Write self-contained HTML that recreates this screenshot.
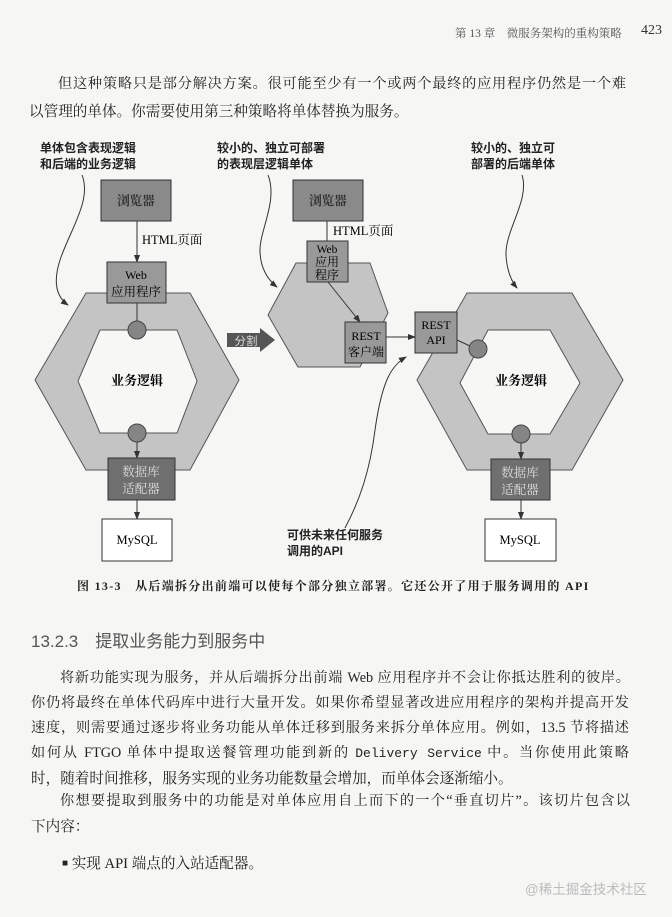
<!DOCTYPE html>
<html><head><meta charset="utf-8"><style>
body{margin:0;width:672px;height:917px;background:#f6f6f4;position:relative;overflow:hidden;font-family:"Liberation Serif","Noto Serif CJK SC",serif;color:#222}
.t{position:absolute;white-space:nowrap}
.j{position:absolute;text-align:justify;text-align-last:justify;font-size:14.2px;line-height:20px;white-space:nowrap}
.b{font-size:14.6px}
.s{font-family:"Liberation Sans","Noto Sans CJK SC",sans-serif}
</style></head><body>
<div class="t" style="left:455px;top:25px;font-size:11.5px;color:#555">第 13 章　微服务架构的重构策略</div>
<div class="t" style="left:641px;top:23px;font-size:14px;color:#333">423</div>
<div class="j" style="left:58px;top:74px;width:568px">但这种策略只是部分解决方案。很可能至少有一个或两个最终的应用程序仍然是一个难</div>
<div class="t b" style="left:29px;top:100px">以管理的单体。你需要使用第三种策略将单体替换为服务。</div>

<svg width="672" height="600" style="position:absolute;left:0;top:0" font-family="Liberation Serif,Noto Serif CJK SC,serif">
<defs><marker id="a" markerWidth="8" markerHeight="8" refX="7" refY="4" orient="auto" markerUnits="userSpaceOnUse"><path d="M0,1 L8,4 L0,7z" fill="#333"/></marker></defs>
<g font-family="Liberation Sans,Noto Sans CJK SC,sans-serif" font-size="12" font-weight="bold" fill="#222">
<text x="40" y="152">单体包含表现逻辑</text><text x="40" y="168">和后端的业务逻辑</text>
<text x="217" y="152">较小的、独立可部署</text><text x="217" y="168">的表现层逻辑单体</text>
<text x="471" y="152">较小的、独立可</text><text x="471" y="168">部署的后端单体</text>
<text x="287" y="539">可供未来任何服务</text><text x="287" y="555">调用的API</text>
</g>
<g fill="none" stroke="#333" stroke-width="1">
<path d="M82,175 C92,200 70,230 60,260 C52,285 58,298 68,305" marker-end="url(#a)"/>
<path d="M268,175 C278,200 260,230 260,250 C260,268 268,280 277,287" marker-end="url(#a)"/>
<path d="M522,175 C530,200 505,230 506,255 C507,272 512,282 517,288" marker-end="url(#a)"/>
<path d="M345,528 C360,500 370,470 375,430 C382,380 392,365 406,357" marker-end="url(#a)"/>
</g>
<path d="M86,293 L190,293 L239,380 L190,470 L86,470 L35,380Z" fill="#c4c4c4" stroke="#555"/>
<path d="M100,330 L177,330 L197,381 L177,433 L100,433 L78,381Z" fill="#f7f7f5" stroke="#555"/>
<text x="137" y="385" text-anchor="middle" font-size="13" font-weight="bold">业务逻辑</text>
<line x1="137" y1="221" x2="137" y2="262" stroke="#333" marker-end="url(#a)"/>
<text x="142" y="244" font-size="12.5">HTML页面</text>
<rect x="101" y="180" width="70" height="41" fill="#8a8a8a" stroke="#333"/>
<text x="136" y="205" text-anchor="middle" font-size="12.5" font-weight="bold" fill="#333">浏览器</text>
<line x1="137" y1="303" x2="137" y2="322" stroke="#333"/>
<rect x="107" y="262" width="59" height="41" fill="#999" stroke="#333"/>
<text x="136" y="279" text-anchor="middle" font-size="12">Web</text><text x="136" y="296" text-anchor="middle" font-size="12.5">应用程序</text>
<circle cx="137" cy="330" r="9" fill="#858585" stroke="#444"/>
<circle cx="137" cy="433" r="9" fill="#858585" stroke="#444"/>
<line x1="137" y1="442" x2="137" y2="458" stroke="#333" marker-end="url(#a)"/>
<rect x="108" y="458" width="67" height="42" fill="#6f6f6f" stroke="#333"/>
<text x="141" y="476" text-anchor="middle" font-size="12.5" fill="#ddd">数据库</text><text x="141" y="493" text-anchor="middle" font-size="12.5" fill="#ddd">适配器</text>
<line x1="137" y1="500" x2="137" y2="519" stroke="#333" marker-end="url(#a)"/>
<rect x="102" y="519" width="70" height="42" fill="#fff" stroke="#333"/>
<text x="137" y="544" text-anchor="middle" font-size="12.5">MySQL</text>
<path d="M227,333 L260,333 L260,328 L275,340 L260,352 L260,347 L227,347Z" fill="#555"/>
<text x="246" y="345" text-anchor="middle" font-size="11.5" fill="#ddd" font-family="Liberation Sans,Noto Sans CJK SC,sans-serif">分割</text>
<path d="M296,263 L370,263 L388,313 L360,367 L298,367 L268,315Z" fill="#c4c4c4" stroke="#555"/>
<rect x="293" y="180" width="70" height="41" fill="#8a8a8a" stroke="#333"/>
<text x="328" y="205" text-anchor="middle" font-size="12.5" font-weight="bold" fill="#333">浏览器</text>
<line x1="327" y1="221" x2="327" y2="241" stroke="#333"/>
<text x="333" y="235" font-size="12.5">HTML页面</text>
<rect x="307" y="241" width="41" height="41" fill="#999" stroke="#333"/>
<text x="327" y="253" text-anchor="middle" font-size="11.5">Web</text><text x="327" y="266" text-anchor="middle" font-size="12">应用</text><text x="327" y="279" text-anchor="middle" font-size="12">程序</text>
<line x1="328" y1="282" x2="360" y2="322" stroke="#333" marker-end="url(#a)"/>
<rect x="345" y="322" width="41" height="41" fill="#999" stroke="#333"/>
<text x="366" y="340" text-anchor="middle" font-size="12">REST</text><text x="366" y="356" text-anchor="middle" font-size="12">客户端</text>
<line x1="386" y1="337" x2="415" y2="337" stroke="#333" marker-end="url(#a)"/>
<path d="M467,293 L572,293 L623,380 L572,470 L467,470 L417,380Z" fill="#c4c4c4" stroke="#555"/>
<path d="M488,330 L550,330 L580,383 L550,434 L488,434 L460,383Z" fill="#f7f7f5" stroke="#555"/>
<text x="521" y="385" text-anchor="middle" font-size="13" font-weight="bold">业务逻辑</text>
<line x1="457" y1="340" x2="470" y2="346" stroke="#333"/>
<rect x="415" y="312" width="42" height="41" fill="#999" stroke="#333"/>
<text x="436" y="329" text-anchor="middle" font-size="12">REST</text><text x="436" y="344" text-anchor="middle" font-size="12">API</text>
<circle cx="478" cy="349" r="9" fill="#858585" stroke="#444"/>
<circle cx="521" cy="434" r="9" fill="#858585" stroke="#444"/>
<line x1="521" y1="443" x2="521" y2="459" stroke="#333" marker-end="url(#a)"/>
<rect x="491" y="459" width="59" height="41" fill="#6f6f6f" stroke="#333"/>
<text x="520" y="477" text-anchor="middle" font-size="12.5" fill="#ddd">数据库</text><text x="520" y="494" text-anchor="middle" font-size="12.5" fill="#ddd">适配器</text>
<line x1="521" y1="500" x2="521" y2="519" stroke="#333" marker-end="url(#a)"/>
<rect x="485" y="519" width="71" height="42" fill="#fff" stroke="#333"/>
<text x="520" y="544" text-anchor="middle" font-size="12.5">MySQL</text>
</svg>

<div class="t" style="left:77px;top:577px;font-size:12px;font-weight:bold;letter-spacing:1.3px">图 13-3　从后端拆分出前端可以使每个部分独立部署。它还公开了用于服务调用的 API</div>
<div class="t s" style="left:31px;top:627px;font-size:17px;color:#555">13.2.3　提取业务能力到服务中</div>
<div class="j" style="left:60px;top:668px;width:570px">将新功能实现为服务，并从后端拆分出前端 Web 应用程序并不会让你抵达胜利的彼岸。</div>
<div class="j" style="left:31px;top:693px;width:598px">你仍将最终在单体代码库中进行大量开发。如果你希望显著改进应用程序的架构并提高开发</div>
<div class="j" style="left:31px;top:718px;width:598px">速度，则需要通过逐步将业务功能从单体迁移到服务来拆分单体应用。例如，13.5 节将描述</div>
<div class="j" style="left:31px;top:743px;width:598px">如何从 FTGO 单体中提取送餐管理功能到新的 <span style="font-family:'Liberation Mono',monospace;font-size:13px">Delivery Service</span> 中。当你使用此策略</div>
<div class="t b" style="left:31px;top:767px">时，随着时间推移，服务实现的业务功能数量会增加，而单体会逐渐缩小。</div>
<div class="j" style="left:60px;top:791px;width:570px">你想要提取到服务中的功能是对单体应用自上而下的一个“垂直切片”。该切片包含以</div>
<div class="t b" style="left:31px;top:815px">下内容：</div>
<div class="t b" style="left:62px;top:852px"><span style="font-size:10px;vertical-align:2px">■</span>  实现 API 端点的入站适配器。</div>
<div class="t s" style="left:525px;top:878px;font-size:13.5px;color:#bbb">@稀土掘金技术社区</div>
</body></html>
